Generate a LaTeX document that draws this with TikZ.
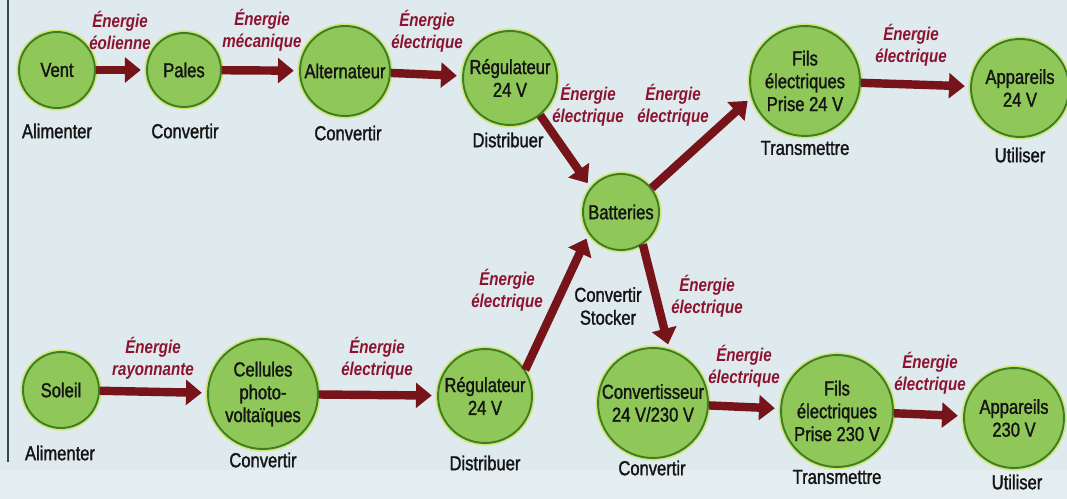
\documentclass[tikz,border=0pt]{standalone}
\usepackage{fontspec}
\setmainfont{Liberation Sans}[FakeStretch=0.82]
\newfontfamily\bullefont{Liberation Sans}[FakeStretch=0.82, FakeBold=1.4]
\usepackage{xcolor}
\definecolor{pagebg}{RGB}{222,234,238}
\definecolor{pagebas}{RGB}{228,238,240}
\definecolor{bullefill}{RGB}{143,200,88}
\definecolor{bulledraw}{RGB}{62,125,40}
\definecolor{halo}{RGB}{210,230,120}
\definecolor{fluxrouge}{RGB}{118,20,26}
\definecolor{energie}{RGB}{140,18,46}
\definecolor{cadre}{RGB}{55,72,74}
\usepackage{tikz}
\usetikzlibrary{arrows.meta}

\begin{document}
\begin{tikzpicture}[
  x=0.02cm, y=-0.02cm,
  bulle/.style={circle, draw=bulledraw, fill=bullefill, line width=1.1pt, inner sep=0pt,
    align=center, text=black!92, font=\bullefont\fontsize{11.5}{13}\selectfont,
    preaction={draw=halo, line width=3pt}},
  fonction/.style={font=\bullefont\fontsize{11.5}{13}\selectfont, text=black!92, align=center},
  energie/.style={font=\fontsize{10.5}{12.5}\selectfont\bfseries\itshape, text=energie, align=center},
  flux/.style={draw=fluxrouge, line width=4.8pt, -{Triangle[length=9pt, width=14pt]}, shorten >=3pt},
]
% Page background and frame
\useasboundingbox (0,0) rectangle (1067,499);
\fill[pagebg] (0,0) rectangle (1067,499);
\fill[pagebas] (0,470) rectangle (1067,499);
\draw[cadre, line width=1.2pt] (8,0) -- (8,462);

% Wind chain (top)
\node[bulle, minimum size=1.52cm] (vent) at (57,70) {Vent};
\node[bulle, minimum size=1.48cm] (pales) at (184,70) {Pales};
\node[bulle, minimum size=1.8cm] (alter) at (345,71) {Alternateur};
\node[bulle, minimum size=1.88cm] (regH) at (510,78) {Régulateur\\24 V};
\node[bulle, minimum size=2.2cm] (fils24) at (805,81) {Fils\\électriques\\Prise 24 V};
\node[bulle, minimum size=1.96cm] (app24) at (1020,88) {Appareils\\24 V};

% Storage
\node[bulle, minimum size=1.52cm] (batt) at (621,212) {Batteries};

% Solar chain (bottom)
\node[bulle, minimum size=1.52cm] (soleil) at (61,390) {Soleil};
\node[bulle, minimum size=2.2cm] (cell) at (263,394) {Cellules\\photo-\\voltaïques};
\node[bulle, minimum size=1.88cm] (regB) at (485,396) {Régulateur\\24 V};
\node[bulle, minimum size=2.2cm] (conv) at (653,403) {Convertisseur\\24 V/230 V};
\node[bulle, minimum size=2.24cm] (fils230) at (837,411) {Fils\\électriques\\Prise 230 V};
\node[bulle, minimum size=2cm] (app230) at (1014,418) {Appareils\\230 V};

% Functions
\node[fonction] (fVent) at (57,131) {Alimenter};
\node[fonction] (fPales) at (185,131) {Convertir};
\node[fonction] (fAlter) at (348,133) {Convertir};
\node[fonction] (fRegH) at (508,140) {Distribuer};
\node[fonction] (fFils24) at (805,148) {Transmettre};
\node[fonction] (fApp24) at (1020,155) {Utiliser};
\node[fonction] (fBatt) at (608,306) {Convertir\\Stocker};
\node[fonction] (fSoleil) at (60,453) {Alimenter};
\node[fonction] (fCell) at (263,460) {Convertir};
\node[fonction] (fRegB) at (485,463) {Distribuer};
\node[fonction] (fConv) at (652,468) {Convertir};
\node[fonction] (fFils230) at (837,477) {Transmettre};
\node[fonction] (fApp230) at (1017,482) {Utiliser};

% Energy flows
\draw[flux] (vent) -- (pales);
\draw[flux] (pales) -- (alter);
\draw[flux] (alter) -- (regH);
\draw[flux] (regH.-51) -- (batt.141);
\draw[flux] (batt.38) -- (fils24.197);
\draw[flux] (fils24) -- (app24);
\draw[flux] (soleil) -- (cell);
\draw[flux] (cell) -- (regB);
\draw[flux] (regB.33) -- (batt.214);
\draw[flux] (batt.-56) -- (conv.73);
\draw[flux] (conv) -- (fils230);
\draw[flux] (fils230) -- (app230);

% Energy labels
\node[energie] (eVent) at (120,30) {Énergie\\éolienne};
\node[energie] (ePales) at (262,30) {Énergie\\mécanique};
\node[energie] (eAlter) at (427,31) {Énergie\\électrique};
\node[energie] (eRegH) at (588,105) {Énergie\\électrique};
\node[energie] (eFils24) at (673,105) {Énergie\\électrique};
\node[energie] (eApp24) at (911,45) {Énergie\\électrique};
\node[energie] (eRegB) at (507,290) {Énergie\\électrique};
\node[energie] (eConv) at (707,296) {Énergie\\électrique};
\node[energie] (eSoleil) at (153,358) {Énergie\\rayonnante};
\node[energie] (eCell) at (377,358) {Énergie\\électrique};
\node[energie] (eFils230) at (744,366) {Énergie\\électrique};
\node[energie] (eApp230) at (930,373) {Énergie\\électrique};
\end{tikzpicture}
\end{document}
